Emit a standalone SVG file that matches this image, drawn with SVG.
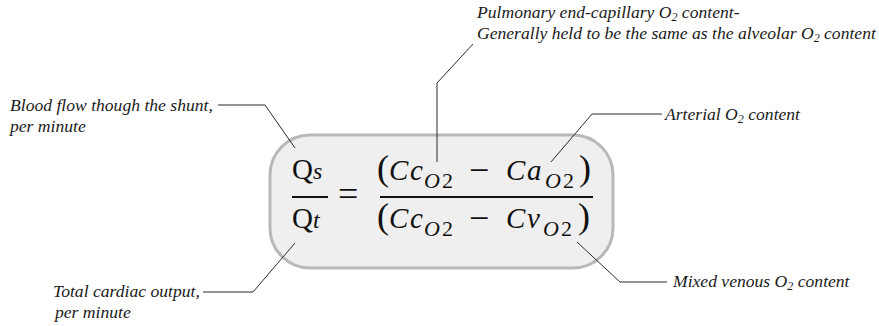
<svg xmlns="http://www.w3.org/2000/svg" width="879" height="326" viewBox="0 0 879 326">
<style>
.lbl{font-family:"Liberation Serif",serif;font-style:italic;font-size:17.6px;fill:#1a1a1a}
.sub{font-size:12px}
.m{font-family:"Liberation Serif",serif;font-size:29px;fill:#111}
.mi{font-style:italic}
.p{font-size:36px}
.ms{font-family:"Liberation Serif",serif;font-size:22px;fill:#111}
.ln{fill:none;stroke:#2a2a2a;stroke-width:1}
</style>
<rect width="879" height="326" fill="#ffffff"/>
<g id="equation">
<rect x="270" y="135" width="343" height="133" rx="40" ry="40" fill="#efefef" stroke="#b8b8b8" stroke-width="3"/>
<text class="m" x="292" y="179">Q<tspan class="mi" font-size="24">s</tspan></text>
<line x1="292" y1="197" x2="328" y2="197" stroke="#111" stroke-width="2"/>
<text class="m" x="292" y="228">Q<tspan class="mi" font-size="24">t</tspan></text>
<text class="m p" x="338" y="206">=</text>
<line x1="380" y1="197" x2="593" y2="197" stroke="#111" stroke-width="2"/>
<text class="m" y="180"><tspan class="p" x="377">(</tspan><tspan class="mi" x="389">C</tspan><tspan class="mi" x="410">c</tspan><tspan class="mi" x="506">C</tspan><tspan class="mi" x="527">a</tspan><tspan class="p" x="579">)</tspan></text>
<text class="m p" x="469" y="182">−</text>
<text class="ms" y="188"><tspan class="mi" x="424">O</tspan><tspan x="442">2</tspan><tspan class="mi" x="545">O</tspan><tspan x="563">2</tspan></text>
<text class="m" y="228"><tspan class="p" x="377">(</tspan><tspan class="mi" x="389">C</tspan><tspan class="mi" x="410">c</tspan><tspan class="mi" x="506">C</tspan><tspan class="mi" x="527">v</tspan><tspan class="p" x="578">)</tspan></text>
<text class="m p" x="469" y="230">−</text>
<text class="ms" y="236"><tspan class="mi" x="424">O</tspan><tspan x="442">2</tspan><tspan class="mi" x="543">O</tspan><tspan x="561">2</tspan></text>
</g>
<g id="label-shunt">
<text class="lbl" x="10" y="111">Blood flow though the shunt,</text>
<text class="lbl" x="10" y="132">per minute</text>
</g>
<g id="label-pulmonary">
<text class="lbl" x="477" y="18">Pulmonary end-capillary O<tspan class="sub" dy="3">2</tspan><tspan dy="-3"> content-</tspan></text>
<text class="lbl" x="477" y="39">Generally held to be the same as the alveolar O<tspan class="sub" dy="3">2</tspan><tspan dy="-3"> content</tspan></text>
</g>
<g id="label-arterial">
<text class="lbl" x="665" y="120">Arterial O<tspan class="sub" dy="3">2</tspan><tspan dy="-3"> content</tspan></text>
</g>
<g id="label-venous">
<text class="lbl" x="673" y="287">Mixed venous O<tspan class="sub" dy="3">2</tspan><tspan dy="-3"> content</tspan></text>
</g>
<g id="label-cardiac">
<text class="lbl" x="53" y="297">Total cardiac output,</text>
<text class="lbl" x="55" y="318">per minute</text>
</g>
<g id="connectors">
<polyline class="ln" points="218,105 265,105 295,148"/>
<polyline class="ln" points="473,44 437,83 437,162"/>
<polyline class="ln" points="662,114 592,114 551,162"/>
<polyline class="ln" points="667,282 620,282 577,242"/>
<polyline class="ln" points="203,292 253,292 295,243"/>
</g>
</svg>
